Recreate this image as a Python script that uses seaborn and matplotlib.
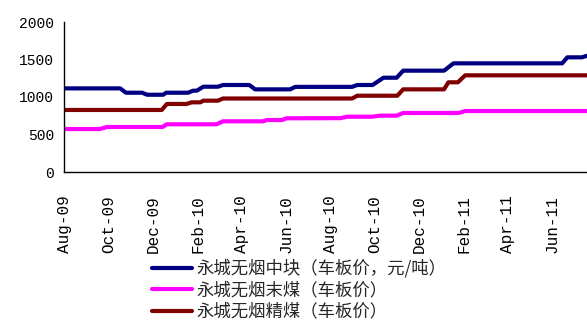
import pandas as pd
import matplotlib
matplotlib.use("Agg")
import matplotlib.pyplot as plt
import matplotlib.dates as mdates
import seaborn as sns

# vertices of each step line (date, yuan/ton)
lump_dates = ["2009-08-01", "2009-10-17", "2009-10-25", "2009-11-16", "2009-11-23",
              "2009-12-15", "2009-12-19", "2010-01-18", "2010-01-25", "2010-01-30",
              "2010-02-08", "2010-02-28", "2010-03-07", "2010-04-12", "2010-04-20",
              "2010-06-07", "2010-06-14", "2010-08-31", "2010-09-07", "2010-09-28",
              "2010-10-13", "2010-10-31", "2010-11-09", "2011-01-04", "2011-01-17",
              "2011-06-15", "2011-06-22", "2011-07-12", "2011-07-19"]
lump_vals = [1115, 1115, 1057, 1057, 1030, 1030, 1057, 1057, 1084, 1084,
             1137, 1137, 1160, 1160, 1102, 1102, 1135, 1135, 1160, 1160,
             1257, 1257, 1351, 1351, 1449, 1449, 1529, 1529, 1550]

fines_dates = ["2009-08-01", "2009-09-19", "2009-09-29", "2009-12-14", "2009-12-20",
               "2010-02-26", "2010-03-07", "2010-05-01", "2010-05-06", "2010-05-27",
               "2010-06-02", "2010-08-15", "2010-08-24", "2010-09-27", "2010-10-08",
               "2010-10-31", "2010-11-09", "2011-01-24", "2011-02-02", "2011-07-19"]
fines_vals = [573, 573, 600, 600, 636, 636, 676, 676, 693, 693,
              716, 718, 737, 737, 751, 751, 787, 787, 813, 813]

washed_dates = ["2009-08-01", "2009-12-13", "2009-12-20", "2010-01-16", "2010-01-23",
                "2010-02-04", "2010-02-08", "2010-02-28", "2010-03-07", "2010-08-31",
                "2010-09-07", "2010-11-01", "2010-11-09", "2011-01-04", "2011-01-10",
                "2011-01-23", "2011-02-02", "2011-07-19"]
washed_vals = [827, 827, 907, 907, 929, 929, 951, 951, 980, 980,
               1017, 1017, 1102, 1102, 1196, 1196, 1289, 1289]

labels = ["永城无烟中块（车板价，元/吨）", "永城无烟末煤（车板价）", "永城无烟精煤（车板价）"]
colors = ["#000080", "#FF00FF", "#800000"]

frames = []
for name, d, v in zip(labels, [lump_dates, fines_dates, washed_dates],
                      [lump_vals, fines_vals, washed_vals]):
    frames.append(pd.DataFrame({"date": pd.to_datetime(d), "price": v, "series": name}))
df = pd.concat(frames, ignore_index=True)

sns.set_style("white")
plt.rcParams["font.family"] = ["Liberation Mono", "Noto Sans CJK SC", "DejaVu Sans"]

fig = plt.figure(figsize=(5.87, 3.23), dpi=100)
ax = fig.add_axes([64 / 587, 151 / 323, 523 / 587, 150 / 323])

sns.lineplot(data=df, x="date", y="price", hue="series", hue_order=labels,
             palette=colors, linewidth=3, sort=False, estimator=None, ax=ax, legend=False)

ax.set_xlim(pd.Timestamp("2009-08-01"), pd.Timestamp("2011-07-19"))
ax.set_ylim(0, 2000)
ax.set_yticks([0, 500, 1000, 1500, 2000])
ax.xaxis.set_major_locator(mdates.MonthLocator(bymonth=[2, 4, 6, 8, 10, 12]))
ax.xaxis.set_major_formatter(mdates.DateFormatter("%b-%y"))
ax.set_xlabel("")
ax.set_ylabel("")
for lbl in ax.get_xticklabels():
    lbl.set_rotation(90)
ax.tick_params(direction="in", length=5, width=1, colors="black")
ax.tick_params(axis="x", pad=17, labelsize=11.5)
ax.tick_params(axis="y", pad=7, labelsize=10.5)

for side in ["top", "right"]:
    ax.spines[side].set_visible(False)
for side in ["left", "bottom"]:
    ax.spines[side].set_color("black")
    ax.spines[side].set_linewidth(1)

handles = [plt.Line2D([], [], color=c, lw=3) for c in colors]
fig.legend(handles, labels, loc="upper left", bbox_to_anchor=(152 / 587, 1 - 259 / 323),
           frameon=False, handlelength=2.3, handletextpad=0.25, labelspacing=0.2,
           prop={"family": ["Noto Sans CJK SC", "DejaVu Sans"], "size": 12.5},
           borderaxespad=0, borderpad=0)

fig.savefig("out.png", dpi=100)
